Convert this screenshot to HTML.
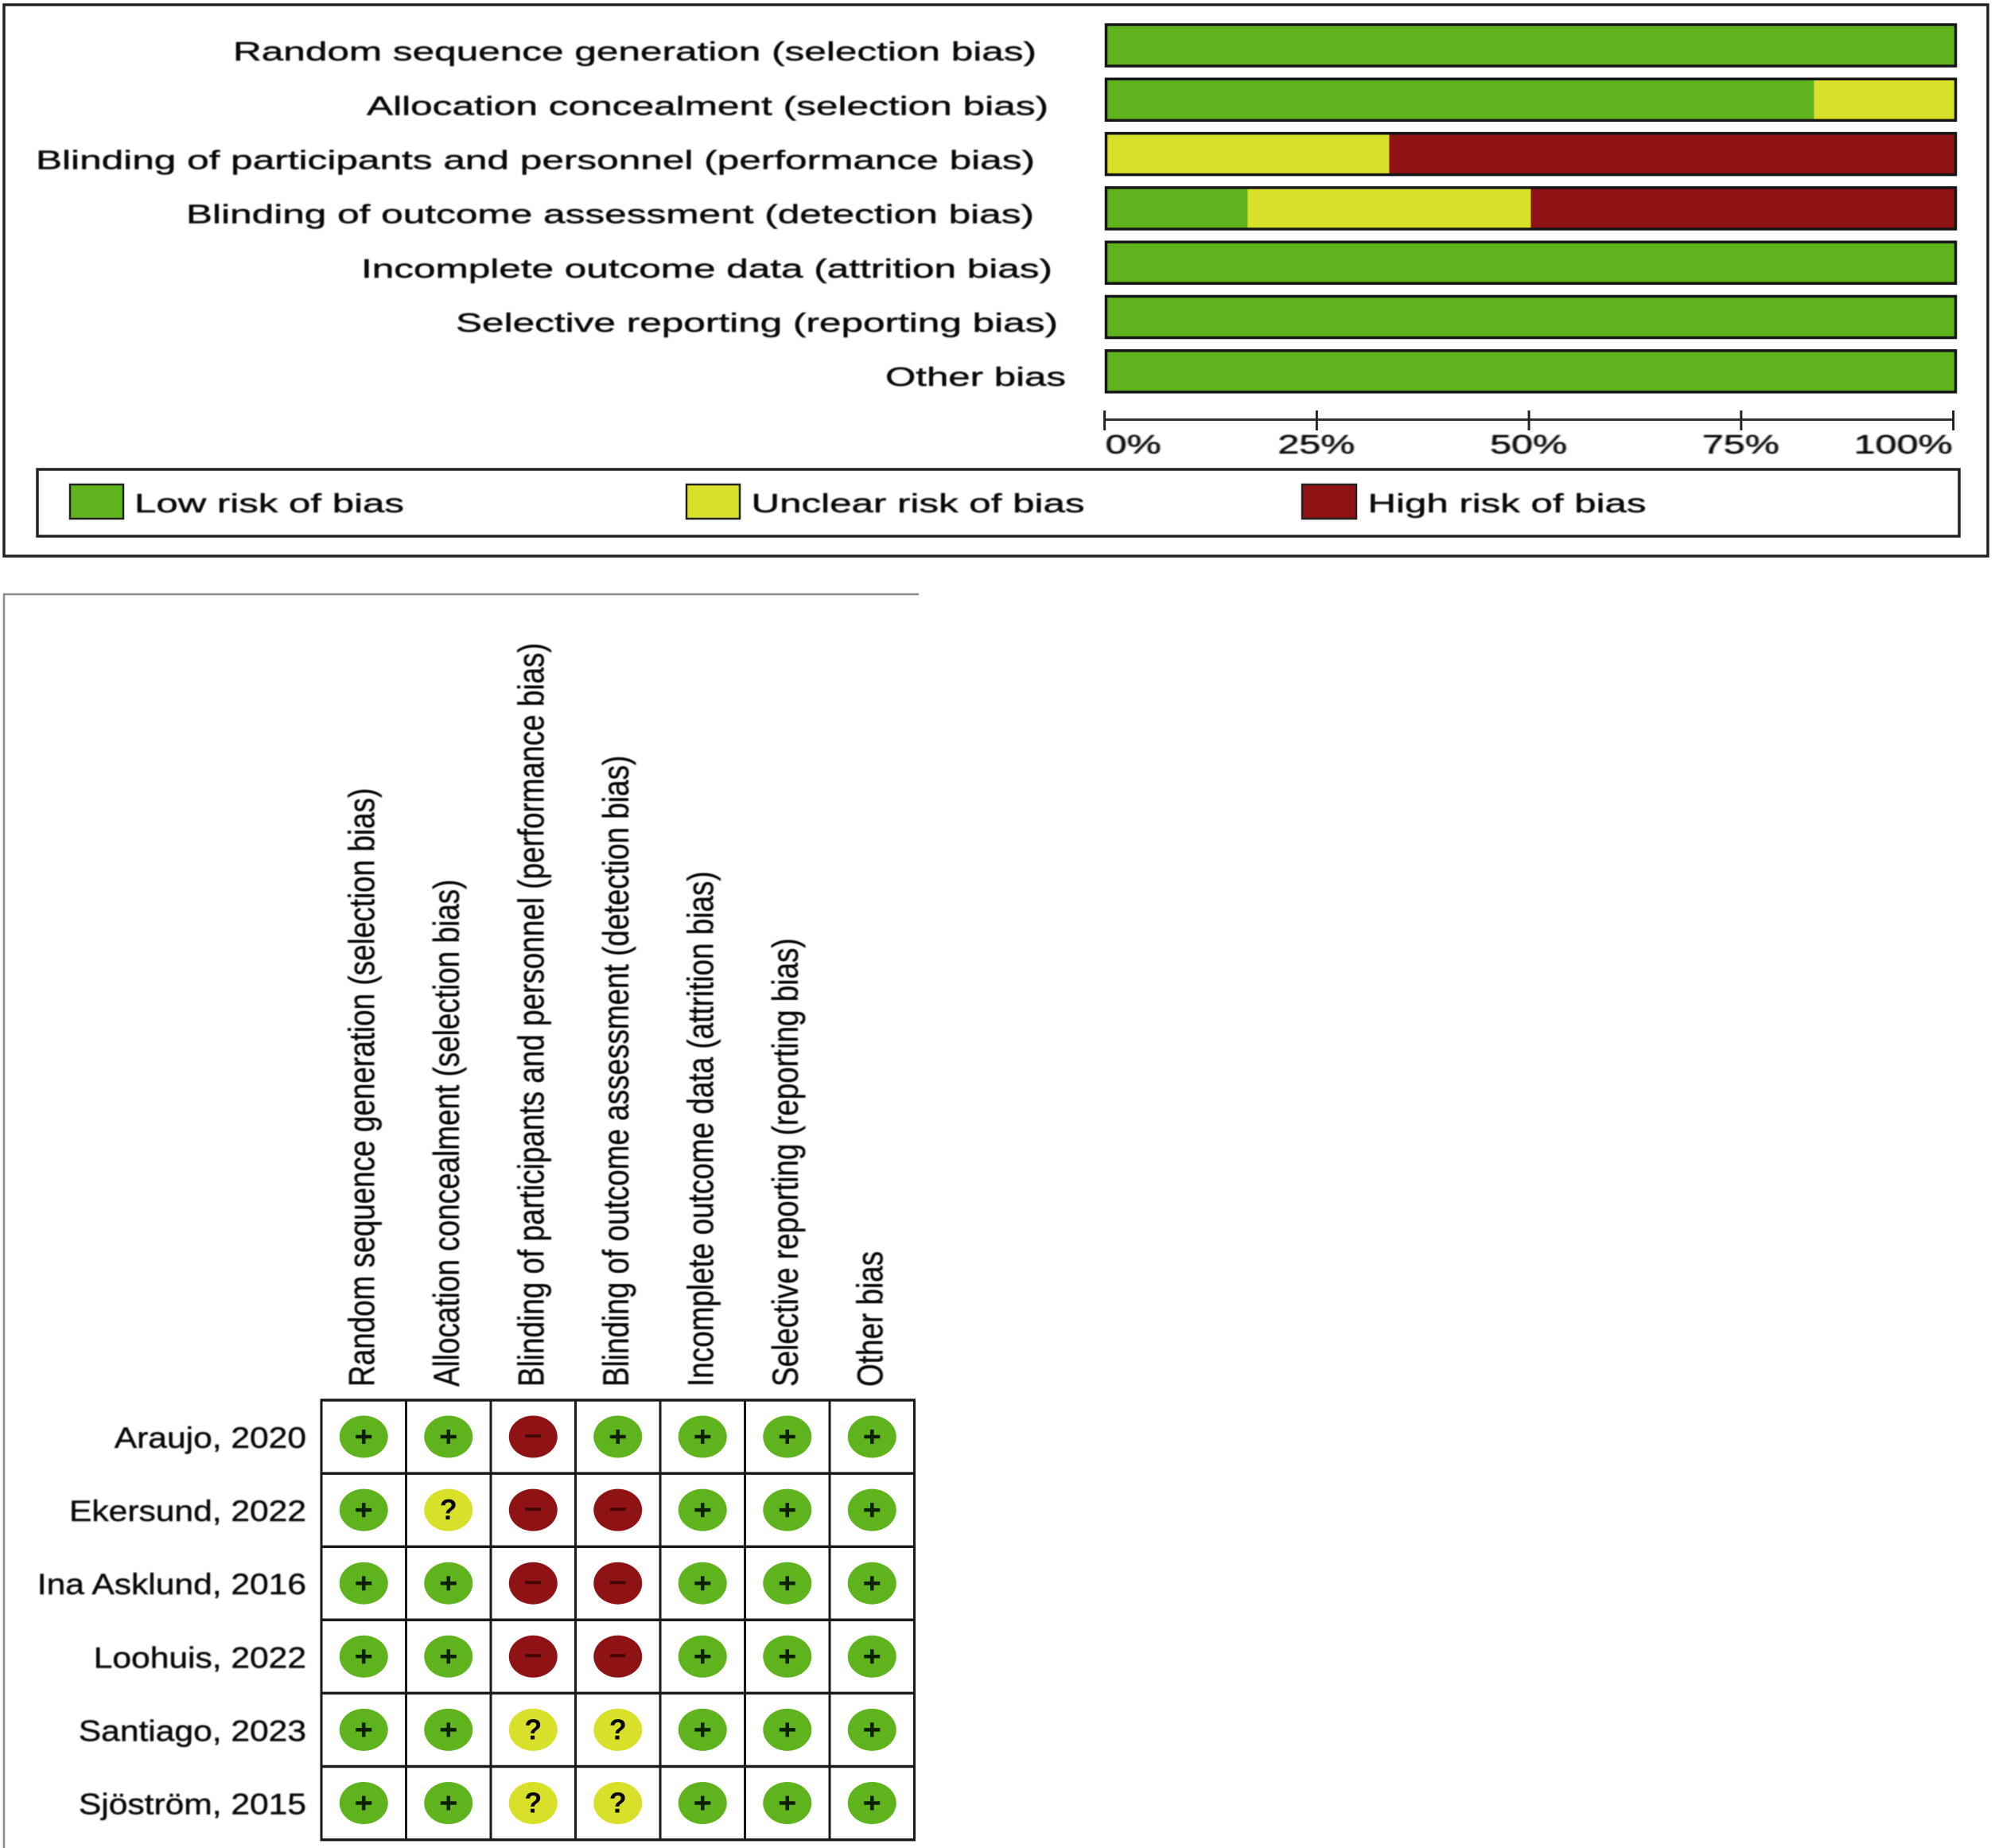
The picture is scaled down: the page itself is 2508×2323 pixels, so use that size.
<!DOCTYPE html>
<html lang="en">
<head>
<meta charset="utf-8">
<title>Risk of bias graph and summary</title>
<style>
html,body{margin:0;padding:0;background:#fff;}
svg{display:block;}
text{font-family:"Liberation Sans",Arial,sans-serif;fill:#0a0a0a;}
.soft text,text.soft{stroke:#0a0a0a;stroke-width:0.45px;filter:blur(0.7px);}
</style>
</head>
<body>
<svg id="chart" xmlns="http://www.w3.org/2000/svg" width="2508" height="2323" viewBox="0 0 2508 2323">
  <rect x="0" y="0" width="2508" height="2323" fill="#fff"/>

  <rect x="5" y="6" width="2494" height="693" fill="none" stroke="#222" stroke-width="3.5"/>

  <g class="soft" font-size="33">
    <text x="293" y="76" textLength="1010" lengthAdjust="spacingAndGlyphs">Random sequence generation (selection bias)</text>
    <text x="461" y="144.5" textLength="857" lengthAdjust="spacingAndGlyphs">Allocation concealment (selection bias)</text>
    <text x="45" y="212.5" textLength="1256" lengthAdjust="spacingAndGlyphs">Blinding of participants and personnel (performance bias)</text>
    <text x="234" y="280.5" textLength="1066" lengthAdjust="spacingAndGlyphs">Blinding of outcome assessment (detection bias)</text>
    <text x="454" y="349" textLength="869" lengthAdjust="spacingAndGlyphs">Incomplete outcome data (attrition bias)</text>
    <text x="573" y="417" textLength="757" lengthAdjust="spacingAndGlyphs">Selective reporting (reporting bias)</text>
    <text x="1113" y="485" textLength="227" lengthAdjust="spacingAndGlyphs">Other bias</text>
  </g>

  <g id="bars"></g>
  <g id="axis"></g>

  <g>
    <rect x="47" y="590" width="2416" height="84" fill="none" stroke="#222" stroke-width="3.5"/>
    <rect x="88" y="609" width="67" height="43" fill="#5fb41e" stroke="#222" stroke-width="2.5"/>
    <text class="soft" x="169" y="644" font-size="33" textLength="339" lengthAdjust="spacingAndGlyphs">Low risk of bias</text>
    <rect x="863" y="609" width="67" height="43" fill="#d9e02a" stroke="#222" stroke-width="2.5"/>
    <text class="soft" x="944.5" y="644" font-size="33" textLength="419" lengthAdjust="spacingAndGlyphs">Unclear risk of bias</text>
    <rect x="1637" y="609" width="68" height="43" fill="#8f1214" stroke="#222" stroke-width="2.5"/>
    <text class="soft" x="1719.5" y="644" font-size="33" textLength="350" lengthAdjust="spacingAndGlyphs">High risk of bias</text>
  </g>

  <path d="M5 2323V747H1155" fill="none" stroke="#8a8a8a" stroke-width="2.5"/>

  <g id="column-labels" class="soft"></g>
  <g id="row-labels" class="soft"></g>
  <g id="grid"></g>
  <g id="cells"></g>
</svg>

<script>
const domains = [
  "Random sequence generation (selection bias)",
  "Allocation concealment (selection bias)",
  "Blinding of participants and personnel (performance bias)",
  "Blinding of outcome assessment (detection bias)",
  "Incomplete outcome data (attrition bias)",
  "Selective reporting (reporting bias)",
  "Other bias"
];
const lowValues = [100, 83.33, 0, 16.67, 100, 100, 100];
const unclearValues = [0, 16.67, 33.33, 33.33, 0, 0, 0];
const highValues = [0, 0, 66.67, 50, 0, 0, 0];
const axisTicks = [0, 25, 50, 75, 100];
const axisTickLabels = ["0%", "25%", "50%", "75%", "100%"];
const studies = ["Araujo, 2020", "Ekersund, 2022", "Ina Asklund, 2016", "Loohuis, 2022", "Santiago, 2023", "Sjöström, 2015"];
const araujoJudgements = ["low", "low", "high", "low", "low", "low", "low"];
const ekersundJudgements = ["low", "unclear", "high", "high", "low", "low", "low"];
const asklundJudgements = ["low", "low", "high", "high", "low", "low", "low"];
const loohuisJudgements = ["low", "low", "high", "high", "low", "low", "low"];
const santiagoJudgements = ["low", "low", "unclear", "unclear", "low", "low", "low"];
const sjostromJudgements = ["low", "low", "unclear", "unclear", "low", "low", "low"];
const judgements = [araujoJudgements, ekersundJudgements, asklundJudgements, loohuisJudgements, santiagoJudgements, sjostromJudgements];

const NS = "http://www.w3.org/2000/svg";
const GREEN = "#5fb41e", YELLOW = "#d9e02a", RED = "#8f1214";
const riskFill = { low: GREEN, unclear: YELLOW, high: RED };

function shape(tag, parent, props) {
  const el = document.createElementNS(NS, tag);
  for (const k in props) el.setAttribute(k, props[k]);
  parent.appendChild(el);
  return el;
}
function slug(s) { return s.toLowerCase().replace(/[^a-z0-9ö]+/g, "-").replace(/-+$/, ""); }

/* axis functions */
function xPct(v) { return 1390.5 + v * 10.68; }
function xTick(v) { return 1388.6 + v * 10.67; }
function barTop(i) { return 31 + i * 68.3; }
const BAR_H = 52;
function colLine(j) { return 404 + j * 106.5; }
function rowLine(i) { return 1760 + i * 92.1; }
function colCentre(j) { return colLine(j) + 53.25; }
function rowCentre(i) { return rowLine(i) + 46; }

/* stacked bars */
const barsG = document.getElementById("bars");
domains.forEach(function (d, i) {
  const y = barTop(i);
  const parts = [["low", lowValues[i]], ["unclear", unclearValues[i]], ["high", highValues[i]]];
  let start = 0;
  parts.forEach(function (p) {
    if (p[1] > 0) {
      const seg = shape("rect", barsG, { x: xPct(start), y: y, width: xPct(start + p[1]) - xPct(start), height: BAR_H, fill: riskFill[p[0]] });
      
      
    }
    start += p[1];
  });
  const outline = shape("rect", barsG, { x: xPct(0), y: y, width: xPct(100) - xPct(0), height: BAR_H, fill: "none", stroke: "#161616", "stroke-width": 3.5 });
  
  
});

/* percent axis */
const axisG = document.getElementById("axis");
const axisLine = shape("line", axisG, { x1: xTick(0), x2: xTick(100), y1: 527.5, y2: 527.5, stroke: "#333", "stroke-width": 3 });


axisTicks.forEach(function (t, k) {
  const tick = shape("line", axisG, { x1: xTick(t), x2: xTick(t), y1: 516, y2: 541, stroke: "#222", "stroke-width": 3 });
  
  
  const anchor = k === 0 ? "start" : (k === axisTicks.length - 1 ? "end" : "middle");
  const label = shape("text", axisG, { transform: "translate(" + (xTick(t) + (k === axisTicks.length-1 ? -1 : (k === 0 ? 1 : -0.5))) + ",570) scale(1.47,1)", "font-size": 33, "text-anchor": anchor, class: "soft" });
  label.textContent = axisTickLabels[k];
  
  
});

/* rotated column labels */
const colG = document.getElementById("column-labels");
domains.forEach(function (d, j) {
  const t = shape("text", colG, { transform: "translate(" + (colCentre(j) + 13) + ",1743) rotate(-90) scale(0.82,1)", "font-size": 45 });
  t.textContent = d;
  
  
});

/* study labels */
const rowG = document.getElementById("row-labels");
studies.forEach(function (s, i) {
  const t = shape("text", rowG, { transform: "translate(385," + (rowCentre(i) + 14) + ") scale(1.15,1)", "font-size": 37, "text-anchor": "end" });
  t.textContent = s;
  
  
});

/* grid */
const gridG = document.getElementById("grid");
for (let i = 0; i <= studies.length; i++) {
  const h = shape("line", gridG, { x1: colLine(0) - 1.5, x2: colLine(domains.length) + 1.5, y1: rowLine(i), y2: rowLine(i), stroke: "#1a1a1a", "stroke-width": 3.5 });
  
  
}
for (let j = 0; j <= domains.length; j++) {
  const v = shape("line", gridG, { x1: colLine(j), x2: colLine(j), y1: rowLine(0), y2: rowLine(studies.length), stroke: "#1a1a1a", "stroke-width": 3 });
  
  
}

/* judgement circles */
const cellsG = document.getElementById("cells");
judgements.forEach(function (row, i) {
  row.forEach(function (risk, j) {
    const cx = colCentre(j), cy = rowCentre(i);
    const c = shape("ellipse", cellsG, { cx: cx, cy: cy, rx: 30.5, ry: 26.5, fill: riskFill[risk] });
    
    
    if (risk === "low") {
      const plus = shape("path", cellsG, { d: "M" + (cx - 10) + " " + cy + "H" + (cx + 10) + "M" + cx + " " + (cy - 9) + "V" + (cy + 9), stroke: "#0c2000", "stroke-width": 4.5, fill: "none" });
      
      
    } else if (risk === "high") {
      const minus = shape("line", cellsG, { x1: cx - 10, x2: cx + 10, y1: cy - 1, y2: cy - 1, stroke: "#450808", "stroke-width": 4 });
      
      
    } else {
      const q = shape("text", cellsG, { x: cx, y: cy + 12, "font-size": 36, "font-weight": "bold", "text-anchor": "middle" });
      q.textContent = "?";
      
      
    }
  });
});
</script>
</body>
</html>
